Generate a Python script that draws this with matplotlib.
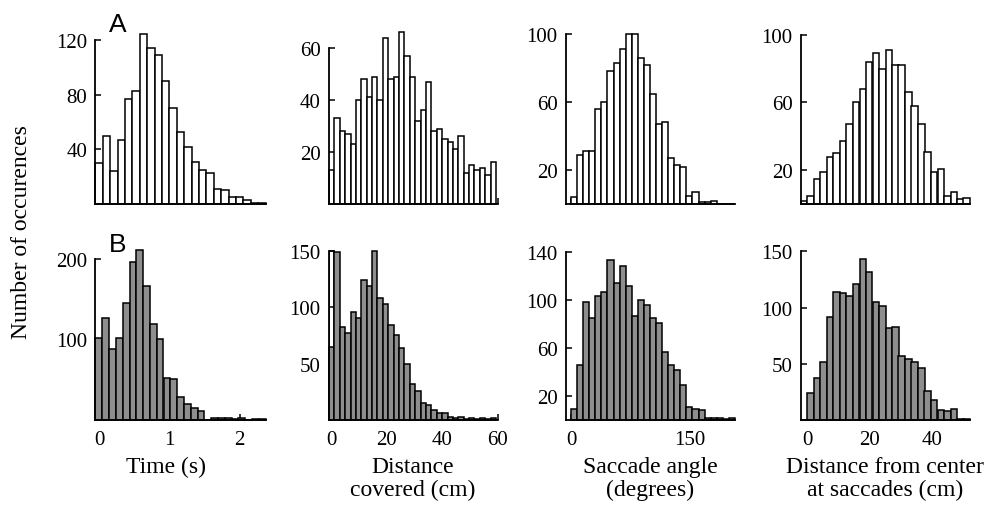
import numpy as np
import matplotlib
matplotlib.use("Agg")
import matplotlib.pyplot as plt

# ---------------- data (counts per bin) ----------------
time_A = [30, 50, 24, 47, 77, 83, 124, 114, 109, 90, 70, 53, 42, 31, 25, 23,
          11, 10, 5, 5, 3, 1, 0.5]
dist_A = [13, 33, 28, 27, 23, 40, 48, 41, 49, 40, 64, 48, 49, 66, 57, 49, 32,
          36, 47, 28, 29, 25, 24, 21, 26, 12, 15, 13, 14, 11, 16]
angle_A = [4, 29, 31, 31, 56, 60, 78, 83, 91, 100, 100, 86, 82, 65, 47, 48, 27,
           23, 22, 5, 7, 1, 1, 2, 0, 0, 0]
center_A = [1.5, 4.6, 15, 19, 28, 30, 37, 47, 60, 68, 84, 89, 80, 91, 82, 82,
            66, 58, 47, 31, 19, 20.5, 4.6, 7, 2.7, 3.6]

time_B = [102, 126, 88, 101, 145, 196, 210, 166, 119, 100, 52, 51, 29, 20, 15,
          11, 0.5, 2.5, 2.5, 2.5, 1, 2, 0.5, 1, 1]
dist_B = [65, 149, 82, 77.5, 96, 90.5, 124, 119, 150, 108, 103, 84, 75, 64, 50,
          32, 26, 15, 13, 9, 6, 6, 3, 2, 2.5, 1, 2, 0.5, 1.5, 1, 2]
dist_B_first_outline = 150
angle_B = [9, 46, 98, 85, 103, 107, 133, 114, 128, 112, 87, 100, 96, 85, 81, 57,
           46, 42, 29, 11, 9, 8, 1.4, 1.4, 1.4, 0.6, 1.4]
center_B = [0, 24, 37, 52, 92, 114, 113, 110, 121, 143, 132, 105, 101, 82, 83,
            57, 54.5, 51.5, 46.5, 26, 18, 9, 8, 10, 0.5, 0.5]

# bin ranges (x units) of the histograms
time_range = (-0.057, 2.37)
dist_range = (-0.7, 59.3)
angle_range = (0.0, 207.0)
center_range = (-2.2, 52.4)

# tick values
time_xticks = [0, 1, 2]
dist_xticks = [0, 20, 40, 60]
angle_xticks = [0, 150]
center_xticks = [0, 20, 40]

yticks_A = [[40, 80, 120], [20, 40, 60], [20, 60, 100], [20, 60, 100]]
yticks_B = [[100, 200], [50, 100, 150], [20, 60, 100, 140], [50, 100, 150]]

xlabels = ["Time (s)", "Distance\ncovered (cm)", "Saccade angle\n(degrees)",
           "Distance from center\nat saccades (cm)"]
ylabel = "Number of occurences"

# ---------------- layout ----------------
W, H = 1003, 506
fig = plt.figure(figsize=(W / 100, H / 100), dpi=100)

serif = ["Liberation Serif", "DejaVu Serif"]
sans = ["Liberation Sans", "DejaVu Sans"]
TICK_FS = 15
LABEL_FS = 17

cols = [  # (left px, right px, xlim)
    (95.5, 265.5, (-0.057, 2.37)),
    (329.0, 498.0, (-0.7, 59.3)),
    (566.0, 735.0, (-6.3, 207.0)),
    (801.0, 970.0, (-2.2, 52.4)),
]
xlabel_centers = [166, 413, 650, 885]
rowA = (205.0, 175.0, [128.0, 67.3, 103.0, 103.4])
rowB = (421.0, 176.0, [218.0, 156.0, 146.7, 156.6])

ranges = [time_range, dist_range, angle_range, center_range]
xticks = [time_xticks, dist_xticks, angle_xticks, center_xticks]
dataA = [time_A, dist_A, angle_A, center_A]
dataB = [time_B, dist_B, angle_B, center_B]

lw = 1.1


def make_ax(col, row, ytop):
    l, r, xl = col
    b, h, _ = row
    ax = fig.add_axes([l / W, 1 - b / H, (r - l) / W, h / H])
    ax.set_xlim(*xl)
    ax.set_ylim(0, ytop)
    for s in ["top", "right"]:
        ax.spines[s].set_visible(False)
    ax.spines["left"].set_linewidth(1.3)
    ax.spines["bottom"].set_linewidth(1.3)
    ax.tick_params(direction="in", length=4, width=1.1, labelsize=TICK_FS)
    ax.tick_params(axis="y", pad=6)
    return ax


def draw_hist(ax, counts, rng, face):
    n = len(counts)
    edges = np.linspace(rng[0], rng[1], n + 1)
    ax.bar(edges[:-1], counts, width=np.diff(edges), align="edge",
           color=face, edgecolor="black", linewidth=lw, clip_on=False, zorder=2)
    return edges


for i in range(4):
    # Row A
    ax = make_ax(cols[i], rowA, rowA[2][i])
    draw_hist(ax, dataA[i], ranges[i], "white")
    ax.set_yticks(yticks_A[i])
    ax.spines["left"].set_bounds(0, yticks_A[i][-1])
    ax.set_xticks(xticks[i])
    ax.set_xticklabels([])
    for lab in ax.get_yticklabels():
        lab.set_fontfamily(serif)
    if i == 0:
        ax.text(0.08, 1.026, "A", transform=ax.transAxes, fontsize=19,
                family=sans, ha="left", va="center")

    # Row B
    ax = make_ax(cols[i], rowB, rowB[2][i])
    if i == 1:
        edges = np.linspace(ranges[i][0], ranges[i][1], len(dataB[i]) + 1)
        ax.bar(edges[0], dist_B_first_outline, width=edges[1] - edges[0],
               align="edge", color="white", edgecolor="black", linewidth=lw,
               zorder=1)
    draw_hist(ax, dataB[i], ranges[i], "#8e8e8e")
    ax.set_yticks(yticks_B[i])
    ax.spines["left"].set_bounds(0, yticks_B[i][-1])
    ax.set_xticks(xticks[i])
    ax.set_xticklabels([str(v) for v in xticks[i]])
    for lab in ax.get_xticklabels() + ax.get_yticklabels():
        lab.set_fontfamily(serif)
    ax.tick_params(axis="x", pad=7)
    if i == 0:
        ax.text(0.08, 1.0, "B", transform=ax.transAxes, fontsize=19,
                family=sans, ha="left", va="center")

    fig.text(xlabel_centers[i] / W, 1 - 457 / H, xlabels[i], family=serif,
             fontsize=LABEL_FS, ha="center", va="top", linespacing=1.13)

fig.text(22 / W, 1 - 232 / H, ylabel, rotation=90, family=serif,
         fontsize=LABEL_FS, ha="center", va="center")

fig.savefig("out.png", dpi=100)
